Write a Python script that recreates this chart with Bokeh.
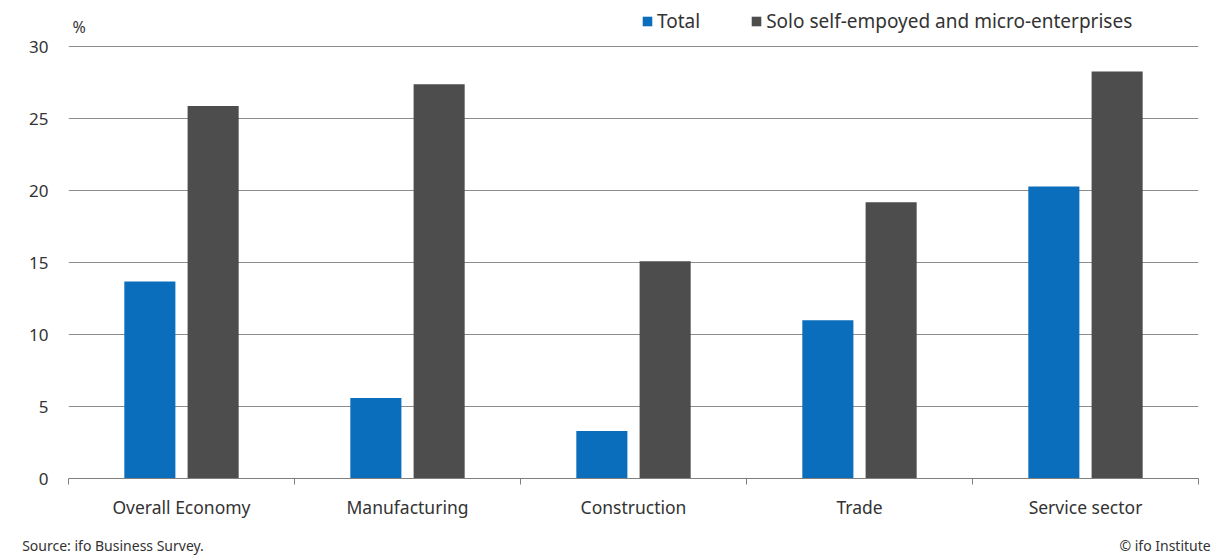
import numpy as np
from bokeh.plotting import figure
from bokeh.models import (ColumnDataSource, FixedTicker, Range1d, Legend, LegendItem, Label,
                          LinearAxis)
from bokeh.embed import file_html
from bokeh.resources import INLINE

categories = ["Overall Economy", "Manufacturing", "Construction", "Trade", "Service sector"]
total = [13.7, 5.6, 3.3, 11.0, 20.3]
solo = [25.9, 27.4, 15.1, 19.2, 28.3]
series_names = ["Total", "Solo self-empoyed and micro-enterprises"]
y_ticks = [0, 5, 10, 15, 20, 25, 30]
source_text = "Source: ifo Business Survey."
copyright_text = "© ifo Institute"

FONT = "Noto Sans"
TXT = "#333333"
BLUE = "#0A6EBD"
GRAY = "#4D4D4D"

n = len(categories)
centers = np.arange(n) + 0.5
src = ColumnDataSource(dict(
    xt=centers - 0.14, xs=centers + 0.14, total=total, solo=solo, cat=categories))

p = figure(width=1213, height=557, output_backend="svg", toolbar_location=None,
           x_range=Range1d(0, n), y_range=Range1d(0, 33.09),
           min_border_left=68, min_border_right=15, min_border_top=2, min_border_bottom=73)
p.outline_line_color = None
p.background_fill_color = "white"

r1 = p.vbar(x="xt", top="total", width=0.226, source=src, fill_color=BLUE, line_color=None)
r2 = p.vbar(x="xs", top="solo", width=0.226, source=src, fill_color=GRAY, line_color=None)

# x axis (category labels, boundary ticks)
xa = p.xaxis[0]
xa.ticker = FixedTicker(ticks=list(centers), minor_ticks=list(range(n + 1)))
xa.major_label_overrides = {float(c): lab for c, lab in zip(centers, categories)}
xa.major_tick_out = 0
xa.major_tick_in = 0
xa.minor_tick_out = 6
xa.minor_tick_in = 0
xa.minor_tick_line_color = "#7f7f7f"
xa.axis_line_color = "#7f7f7f"
xa.axis_line_width = 1
xa.major_label_standoff = 10
xa.major_label_text_font = FONT
xa.major_label_text_font_size = "17.5px"
xa.major_label_text_color = TXT
p.xgrid.grid_line_color = None

# footer axis (source / copyright notes)
note_pos = [0.197, 4.852]
fa = LinearAxis(ticker=FixedTicker(ticks=note_pos))
fa.major_label_overrides = {note_pos[0]: source_text, note_pos[1]: copyright_text}
fa.axis_line_color = None
fa.major_tick_line_color = None
fa.minor_tick_line_color = None
fa.major_tick_out = 0
fa.major_tick_in = 0
fa.major_label_standoff = 14
fa.major_label_text_font = FONT
fa.major_label_text_font_size = "14px"
fa.major_label_text_color = TXT
p.add_layout(fa, "below")

# y axis
ya = p.yaxis[0]
ya.ticker = FixedTicker(ticks=y_ticks)
ya.axis_line_color = None
ya.major_tick_line_color = None
ya.minor_tick_line_color = None
ya.major_tick_out = 0
ya.major_tick_in = 0
ya.major_label_standoff = 20
ya.major_label_text_font = FONT
ya.major_label_text_font_size = "17px"
ya.major_label_text_color = TXT
p.ygrid.grid_line_color = "#8c8c8c"
p.ygrid.grid_line_width = 1
p.ygrid.ticker = FixedTicker(ticks=y_ticks[1:])

legend = Legend(items=[LegendItem(label=series_names[0], renderers=[r1]),
                       LegendItem(label=series_names[1], renderers=[r2])],
                orientation="horizontal", location=(573, 444),
                glyph_width=12, glyph_height=12, label_standoff=4, spacing=50,
                padding=0, margin=0, border_line_color=None, background_fill_alpha=0,
                label_text_font=FONT, label_text_font_size="19px", label_text_color=TXT)
p.add_layout(legend, "center")

p.add_layout(Label(x=0, y=30, x_offset=4, y_offset=20, text="%", text_font=FONT,
                   text_font_size="16px", text_color=TXT, text_baseline="middle"))

open("out.html", "w").write(file_html(p, INLINE))
